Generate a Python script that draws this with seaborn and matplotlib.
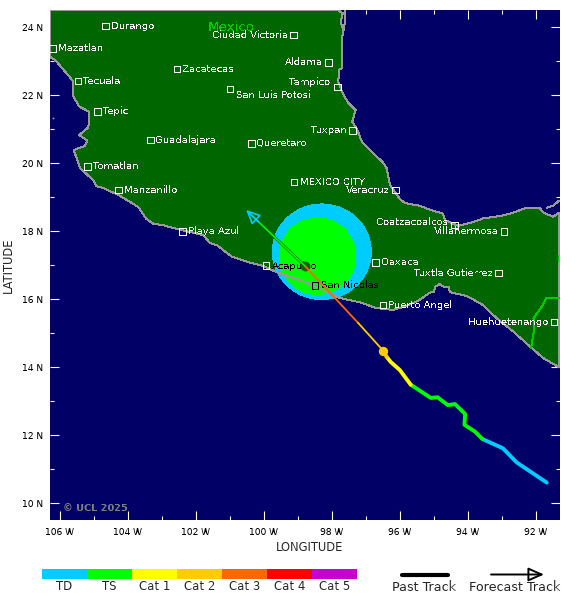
import numpy as np
import matplotlib.pyplot as plt
import seaborn as sns
from matplotlib.colors import ListedColormap
from matplotlib.patches import Ellipse

# land outline, lon / lat (west coast, south coast, gulf coast)
coast_lon = [-106.28, -106.13, -105.96, -105.75, -105.59, -105.59, -105.42, -105.13, -105.15, -105.42,
             -105.18, -105.25, -105.59, -105.49, -105.40, -105.01, -104.91, -104.71, -104.27, -103.93,
             -103.68, -103.46, -103.24, -102.99, -102.51, -101.77, -101.57, -101.38, -100.94, -100.40,
             -100.01, -99.57, -98.93, -98.44, -98.16, -97.75, -97.16, -96.67, -96.18, -95.79,
             -95.45, -95.10, -94.98, -94.96, -94.83, -94.69, -94.56, -94.51, -94.02, -93.54,
             -93.14, -92.65, -92.16, -91.77, -91.32, -91.32, -91.48, -91.77, -91.87, -92.31,
             -92.65, -93.04, -93.54, -93.88, -94.27, -94.46, -94.66, -94.73, -95.10, -95.40,
             -95.84, -95.99, -96.28, -96.38, -96.49, -96.82, -97.11, -97.24, -97.39, -97.29,
             -97.51, -97.67, -97.80, -97.78, -97.70, -97.70, -97.65, -97.73, -97.67, -97.80,
             -106.27, -106.28]
coast_lat = [23.11, 23.02, 22.82, 22.58, 22.38, 21.94, 21.65, 21.50, 21.04, 20.81,
             20.65, 20.49, 20.37, 20.13, 19.84, 19.49, 19.31, 19.25, 19.05, 18.85,
             18.69, 18.36, 18.20, 18.17, 18.04, 17.87, 17.63, 17.58, 17.24, 17.06,
             16.96, 16.76, 16.55, 16.35, 16.20, 16.02, 15.89, 15.72, 15.67, 15.79,
             15.94, 16.18, 16.20, 16.34, 16.43, 16.34, 16.35, 16.19, 16.08, 15.81,
             15.42, 15.03, 14.59, 14.25, 13.99, 18.52, 18.41, 18.53, 18.66, 18.66,
             18.53, 18.43, 18.36, 18.24, 18.14, 18.22, 18.31, 18.51, 18.61, 18.73,
             18.81, 18.93, 19.34, 19.84, 20.01, 20.32, 20.62, 20.96, 21.21, 21.55,
             21.76, 22.04, 22.38, 22.73, 22.78, 23.61, 23.90, 24.15, 24.39, 24.48,
             24.48, 23.11]

barrier_lon = [-97.59, -97.63]
barrier_lat = [24.48, 23.90]
yucatan_lon = [-91.67, -91.49, -91.31]
yucatan_lat = [18.67, 18.73, 18.88]
border_lon = [-91.31, -91.69, -91.82, -92.06, -92.04, -92.13]
border_lat = [16.01, 16.01, 15.76, 15.42, 15.08, 14.54]
border2_lon = [-91.34, -91.34]
border2_lat = [17.29, 17.11]
islet_lon, islet_lat = -106.18, 21.31

# past track by stage
td_lon = [-91.67, -92.55, -92.96, -93.56]
td_lat = [10.59, 11.18, 11.60, 11.87]
ts_lon = [-93.56, -93.78, -94.09, -94.07, -94.37, -94.58, -94.88, -95.08, -95.67]
ts_lat = [11.87, 12.09, 12.29, 12.61, 12.90, 12.87, 13.10, 13.08, 13.47]
cat1_lon = [-95.67, -95.99, -96.26, -96.38]
cat1_lat = [13.47, 13.90, 14.14, 14.29]
cat2_lon = [-96.38, -96.48]
cat2_lat = [14.29, 14.47]

# forecast track
fc_cat2_lon = [-96.48, -97.22]
fc_cat2_lat = [14.47, 15.29]
fc_cat3_lon = [-97.22, -98.78]
fc_cat3_lat = [15.29, 16.96]
fc_ts_lon = [-98.78, -100.40]
fc_ts_lat = [16.96, 18.50]
tip_lon, tip_lat = -100.51, 18.61

now_lon, now_lat = -96.48, 14.47
center_lon, center_lat = -98.78, 16.96

# wind radii
r34_lon, r34_lat, r34_w, r34_h = -98.285, 17.38, 2.91, 2.81
r64_lon, r64_lat, r64_w, r64_h = -98.41, 17.25, 2.25, 2.25

city_names = ['Durango', 'Mazatlan', 'Tecuala', 'Zacatecas', 'Ciudad Victoria', 'Aldama', 'Tampico',
              'San Luis Potosi', 'Tepic', 'Guadalajara', 'Queretaro', 'Tomatlan', 'Manzanillo',
              'Playa Azul', 'Tuxpan', 'Veracruz', 'MEXICO CITY', 'Coatzacoalcos', 'Villahermosa',
              'Oaxaca', 'Tuxtla Gutierrez', 'Puerto Angel', 'Huehuetenango', 'Acapulco']
city_lon = [-104.65, -106.21, -105.46, -102.54, -99.12, -98.09, -97.82,
            -100.98, -104.89, -103.33, -100.36, -105.18, -104.27,
            -102.39, -97.39, -96.12, -99.10, -94.39, -92.92,
            -96.71, -93.09, -96.49, -91.45, -99.92]
city_lat = [24.02, 23.36, 22.40, 22.75, 23.76, 22.95, 22.22,
            22.16, 21.51, 20.66, 20.57, 19.89, 19.19,
            17.98, 20.95, 19.19, 19.43, 18.17, 17.98,
            17.07, 16.75, 15.81, 15.31, 16.97]
# this one sits inside the wind circle, so its box comes out black
inner_name, inner_lon, inner_lat = 'San Nicolas', -98.48, 16.39

left_side = ['Ciudad Victoria', 'Aldama', 'Tampico', 'Tuxpan', 'Veracruz', 'Coatzacoalcos',
             'Villahermosa', 'Tuxtla Gutierrez', 'Huehuetenango']
label_shift = {'Tampico': (-1, 4), 'San Luis Potosi': (0, -4), 'Coatzacoalcos': (0, 2)}

lon_ticks = [-106, -104, -102, -100, -98, -96, -94, -92]
lon_labels = ['106 W', '104 W', '102 W', '100 W', '98 W', '96 W', '94 W', '92 W']
lat_ticks = [10, 12, 14, 16, 18, 20, 22, 24]
lat_labels = ['10 N', '12 N', '14 N', '16 N', '18 N', '20 N', '22 N', '24 N']

stage_names = ['TD', 'TS', 'Cat 1', 'Cat 2', 'Cat 3', 'Cat 4', 'Cat 5']
stage_colors = ['#00ccff', '#00ff00', '#ffff00', '#ffcc00', '#ff6600', '#ff0000', '#cc00cc']

OCEAN = '#000066'
LAND = '#006600'
COAST = '#999999'

sns.set_style('white')
plt.rcParams['font.family'] = ['DejaVu Sans']
plt.rcParams['lines.solid_capstyle'] = 'round'
plt.rcParams['text.hinting'] = 'native'

fig = plt.figure(figsize=(5.8, 6.02), dpi=100)
ax = fig.add_axes([50 / 580, 1 - 520 / 602, 510 / 580, 510 / 602])
ax.set_facecolor(OCEAN)
ax.set_xlim(-106.28, -91.28)
ax.set_ylim(9.49, 24.49)
for s in ax.spines.values():
    s.set_visible(False)

ax.fill(coast_lon, coast_lat, color=LAND, lw=0, zorder=1, antialiased=False)

r34 = Ellipse((r34_lon, r34_lat), r34_w, r34_h, color=stage_colors[0], lw=0, zorder=2, antialiased=False)
r64 = Ellipse((r64_lon, r64_lat), r64_w, r64_h, color=stage_colors[1], lw=0, zorder=2, antialiased=False)
ax.add_patch(r34)
ax.add_patch(r64)

ax.plot(coast_lon, coast_lat, color=COAST, lw=0.7, zorder=3, antialiased=False)
ax.plot(barrier_lon, barrier_lat, color=COAST, lw=0.7, zorder=3, antialiased=False)
ax.plot(yucatan_lon, yucatan_lat, color=COAST, lw=0.7, zorder=3, antialiased=False)
ax.plot(border_lon, border_lat, color='#00cc00', lw=0.7, zorder=3, antialiased=False)
ax.plot(border2_lon, border2_lat, color='#00cc00', lw=0.7, zorder=3, antialiased=False)
sns.scatterplot(x=[islet_lon], y=[islet_lat], s=2, color=COAST, linewidth=0, zorder=3, ax=ax, legend=False)

# cities
sns.scatterplot(x=city_lon, y=city_lat, marker='s', s=22, facecolors='none', edgecolor='white',
                linewidth=0.75, zorder=4, ax=ax, legend=False)
sns.scatterplot(x=[inner_lon], y=[inner_lat], marker='s', s=22, facecolors='none', edgecolor='black',
                linewidth=0.75, zorder=4, ax=ax, legend=False)
for name, x, y in zip(city_names + [inner_name], city_lon + [inner_lon], city_lat + [inner_lat]):
    left = name in left_side
    dx, dy = label_shift.get(name, (0, 0))
    off = (-4 + dx if left else 4 + dx, dy)
    kw = dict(xycoords='data', textcoords='offset points', fontsize=7.2, va='center',
              ha='right' if left else 'left', zorder=5, antialiased=False)
    ax.annotate(name, (x, y), off, color='white', **kw)
    if name in ('Acapulco', inner_name):
        t = ax.annotate(name, (x, y), off, color='black', **kw)
        t.set_clip_path(r34)

ax.text(-100.94, 24.0, 'Mexico', color='#00cc00', fontsize=9.7, ha='center', va='center', zorder=5,
        antialiased=False)
ax.text(-105.91, 9.84, '\u00a9 UCL 2025', color='#808080', fontsize=7, fontweight='bold', va='center', zorder=5)

# past track
for xs, ys, c in [(td_lon, td_lat, stage_colors[0]), (ts_lon, ts_lat, stage_colors[1]),
                  (cat1_lon, cat1_lat, stage_colors[2]), (cat2_lon, cat2_lat, stage_colors[3])]:
    sns.lineplot(x=xs, y=ys, sort=False, estimator=None, color=c, linewidth=2.8, zorder=6, ax=ax)

# forecast track, dark edge shows up on the light green
sns.scatterplot(x=[center_lon], y=[center_lat], s=50, color=LAND, linewidth=0, zorder=5.5, ax=ax, legend=False)
sns.lineplot(x=fc_ts_lon, y=fc_ts_lat, sort=False, estimator=None, color='#007700', linewidth=2.0, zorder=6, ax=ax)
sns.lineplot(x=fc_ts_lon, y=fc_ts_lat, sort=False, estimator=None, color=stage_colors[1], linewidth=1.0, zorder=6, ax=ax)
sns.lineplot(x=fc_cat3_lon, y=fc_cat3_lat, sort=False, estimator=None, color=stage_colors[4], linewidth=1.3, zorder=6, ax=ax)
sns.lineplot(x=fc_cat2_lon, y=fc_cat2_lat, sort=False, estimator=None, color=stage_colors[3], linewidth=1.3, zorder=6, ax=ax)
sns.scatterplot(x=[now_lon], y=[now_lat], s=45, color=stage_colors[3], linewidth=0, zorder=7, ax=ax, legend=False)
ax.annotate('', (tip_lon, tip_lat), (fc_ts_lon[-1] + 0.25, fc_ts_lat[-1] - 0.24), zorder=7,
            arrowprops=dict(arrowstyle='-|>,head_length=0.85,head_width=0.4', fc='none', ec=stage_colors[0],
                            lw=1.2, shrinkA=0, shrinkB=0))

# axes
ax.set_xticks(lon_ticks)
ax.set_xticklabels(lon_labels, fontsize=6.6, color='black')
ax.set_yticks(lat_ticks)
ax.set_yticklabels(lat_labels, fontsize=6.6, color='black')
ax.set_xticks(np.arange(-105, -91, 2), minor=True)
ax.set_yticks(np.arange(11, 25, 2), minor=True)
ax.tick_params(which='major', direction='in', length=6.5, width=0.8, color='white',
               top=True, right=True, bottom=True, left=True, pad=5, zorder=8)
ax.tick_params(which='minor', direction='in', length=3.2, width=0.8, color='white',
               top=True, right=True, bottom=True, left=True, zorder=8)
ax.set_xlabel('LONGITUDE', fontsize=8.3, labelpad=3, x=0.508)
ax.set_ylabel('LATITUDE', fontsize=8.3, labelpad=5)

# stage colour bar
cax = fig.add_axes([42 / 580, 1 - 579 / 602, 315 / 580, 10 / 602])
sns.heatmap(np.arange(7).reshape(1, 7), cmap=ListedColormap(stage_colors), cbar=False, ax=cax,
            xticklabels=stage_names, yticklabels=False)
cax.tick_params(axis='x', length=0, labelsize=8.5, pad=1, labelrotation=0)

# track key
kax = fig.add_axes([0, 0, 1, 1])
kax.set_xlim(0, 580)
kax.set_ylim(602, 0)
kax.axis('off')
kax.patch.set_alpha(0)
sns.lineplot(x=[402, 448], y=[574.5, 574.5], color='black', linewidth=3, ax=kax)
kax.annotate('', (544, 574.5), (491, 574.5),
             arrowprops=dict(arrowstyle='-|>,head_length=0.95,head_width=0.42', fc='none', ec='black',
                             lw=1.4, shrinkA=0, shrinkB=0))
kax.text(424, 587, 'Past Track', fontsize=9.2, ha='center', va='center')
kax.text(515, 587, 'Forecast Track', fontsize=9.2, ha='center', va='center')

fig.savefig('out.png', dpi=100)
